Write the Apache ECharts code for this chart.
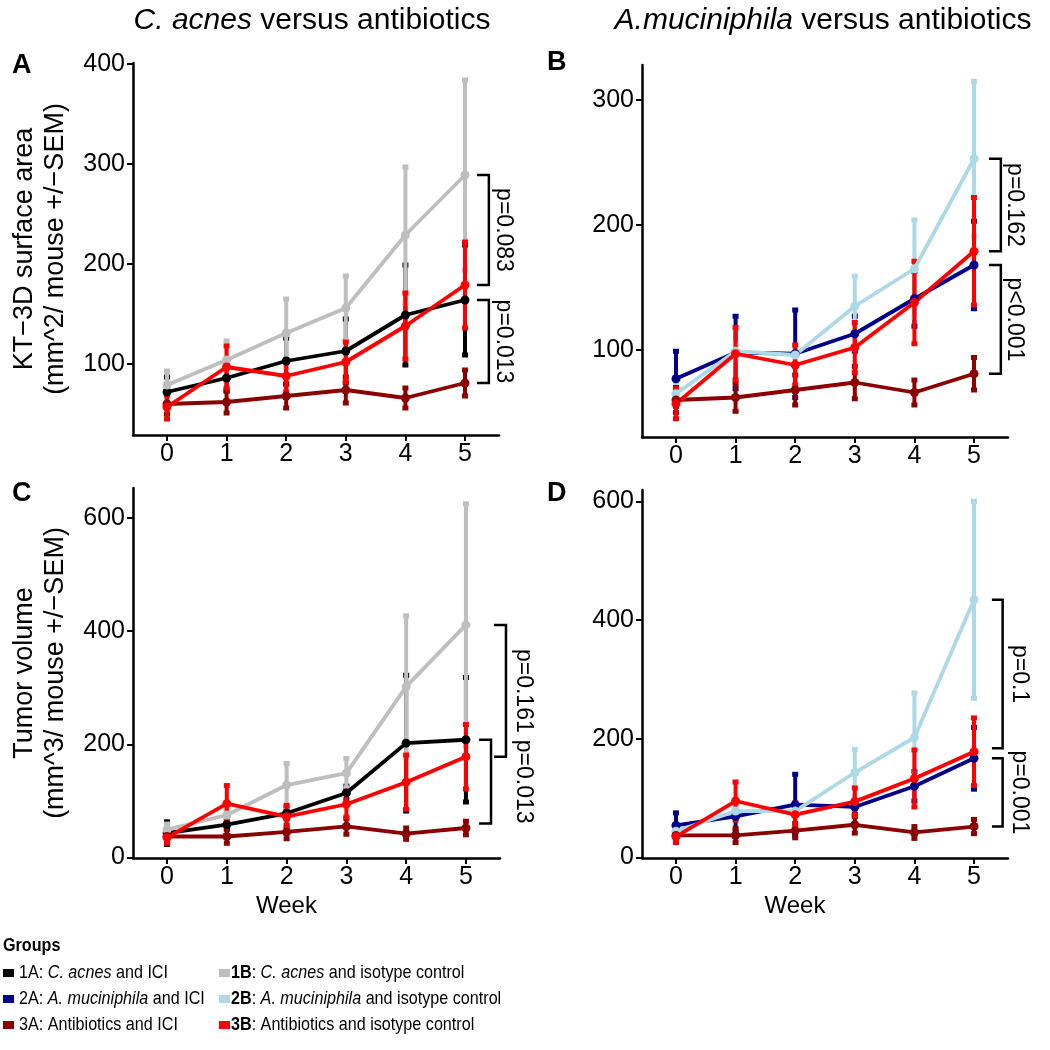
<!DOCTYPE html>
<html><head><meta charset="utf-8">
<script src="https://cdn.jsdelivr.net/npm/echarts@6/dist/echarts.min.js"></script>
<style>html,body{margin:0;padding:0;background:#fff}#c{width:1050px;height:1050px}</style>
</head><body><div id="c"></div>
<script>
// ---------- DATA ----------
const weeks = [0, 1, 2, 3, 4, 5];
const xTickValues = [0, 1, 2, 3, 4, 5];
const yTicksA = [100, 200, 300, 400];
const yTicksB = [100, 200, 300];
const yTicksC = [0, 200, 400, 600];
const yTicksD = [0, 200, 400, 600];

// KT-3D surface area (panels A, B)
const surf1A = [72, 86, 103, 113, 149, 164];
const surf1A_sem = [15, 13, 23, 32, 50, 55];
const surf1B = [79, 104, 131, 156, 229, 289];
const surf1B_sem = [14, 19, 34, 32, 68, 95];
const surf2A = [77, 98, 97, 113, 141, 168];
const surf2A_sem = [22, 29, 35, 14, 22, 35];
const surf2B = [65, 99, 96, 135, 165, 253];
const surf2B_sem = [8, 6, 5, 24, 39, 62];
const surf3A = [60, 62, 68, 74, 66, 81];
const surf3A_sem = [10, 11, 12, 13, 10, 13];
const surf3B = [57, 97, 88, 102, 138, 179];
const surf3B_sem = [12, 21, 16, 20, 33, 43];

// Tumor volume (panels C, D)
const vol1A = [43, 58, 78, 114, 202, 208];
const vol1A_sem = [20, 8, 10, 12, 120, 110];
const vol1B = [49, 75, 128, 149, 302, 411];
const vol1B_sem = [10, 10, 38, 26, 125, 214];
const vol2A = [54, 69, 89, 85, 120, 167];
const vol2A_sem = [21, 25, 51, 12, 25, 52];
const vol2B = [44, 78, 78, 143, 202, 434];
const vol2B_sem = [8, 8, 8, 39, 75, 166];
const vol3A = [37, 37, 45, 55, 42, 52];
const vol3A_sem = [10, 12, 12, 14, 10, 12];
const vol3B = [35, 95, 72, 94, 133, 178];
const vol3B_sem = [10, 32, 20, 23, 48, 57];

const groupColors = {'1A': '#000000', '1B': '#BEBEBE', '2A': '#00008B', '2B': '#ADD8E6', '3A': '#8B0000', '3B': '#FF0000'};
const legendTexts = {
  '1A': '1A: {i|C. acnes} and ICI',
  '1B': '{b|1B}: {i|C. acnes} and isotype control',
  '2A': '2A: {i|A. muciniphila} and ICI',
  '2B': '{b|2B}: {i|A. muciniphila} and isotype control',
  '3A': '3A: Antibiotics and ICI',
  '3B': '{b|3B}: Antibiotics and isotype control'
};

const pLabels = {
  A: ['p=0.083', 'p=0.013'],
  B: ['p=0.162', 'p<0.001'],
  C: ['p=0.161', 'p=0.013'],
  D: ['p=0.1', 'p=0.001']
};

// ---------- BUILD ----------
const FONT = 'Liberation Sans, Arial, Helvetica, sans-serif';
const panels = [
  {key: 'A', grid: {left: 133, top: 63, width: 366, height: 372}, y: [29, 401], ticks: yTicksA,
   groups: [['1A', surf1A, surf1A_sem], ['1B', surf1B, surf1B_sem], ['3A', surf3A, surf3A_sem], ['3B', surf3B, surf3B_sem]],
   brackets: [{top: surf1B[5], bot: surf3B[5], xv: 5.40, xe: 5.20, xt: 5.64},
              {top: surf1A[5], bot: surf3A[5], xv: 5.40, xe: 5.20, xt: 5.64}],
   yname: 'KT\u22123D surface area\n(mm^2/ mouse +/\u2212SEM)', xname: ''},
  {key: 'B', grid: {left: 642, top: 65, width: 366, height: 372}, y: [30.4, 328], ticks: yTicksB,
   groups: [['2A', surf2A, surf2A_sem], ['2B', surf2B, surf2B_sem], ['3A', surf3A, surf3A_sem], ['3B', surf3B, surf3B_sem]],
   brackets: [{top: surf2B[5], bot: surf3B[5], xv: 5.45, xe: 5.25, xt: 5.67},
              {top: surf2A[5], bot: surf3A[5], xv: 5.45, xe: 5.25, xt: 5.67}],
   yname: '', xname: ''},
  {key: 'C', grid: {left: 133, top: 488, width: 367, height: 370}, y: [-1, 653], ticks: yTicksC,
   groups: [['1A', vol1A, vol1A_sem], ['1B', vol1B, vol1B_sem], ['3A', vol3A, vol3A_sem], ['3B', vol3B, vol3B_sem]],
   brackets: [{top: vol1B[5], bot: vol3B[5], xv: 5.67, xe: 5.47, xt: 5.96},
              {top: vol1A[5], bot: vol3A[5] + 8, xv: 5.42, xe: 5.22, xt: 5.96}],
   yname: 'Tumor volume\n(mm^3/ mouse +/\u2212SEM)', xname: 'Week'},
  {key: 'D', grid: {left: 642, top: 490, width: 366, height: 368}, y: [-1, 619], ticks: yTicksD,
   groups: [['2A', vol2A, vol2A_sem], ['2B', vol2B, vol2B_sem], ['3A', vol3A, vol3A_sem], ['3B', vol3B, vol3B_sem]],
   brackets: [{top: vol2B[5], bot: vol3B[5] + 6, xv: 5.48, xe: 5.30, xt: 5.76},
              {top: vol2A[5], bot: vol3A[5], xv: 5.48, xe: 5.30, xt: 5.76}],
   yname: '', xname: 'Week'}
];

const grids = [], xAxes = [], yAxes = [], series = [];
panels.forEach((p, i) => {
  grids.push(Object.assign({containLabel: false}, p.grid));
  xAxes.push({
    type: 'value', gridIndex: i, min: -0.57, max: 5.57,
    axisLine: {show: true, onZero: false, lineStyle: {color: '#000', width: 2.5}},
    axisTick: {show: true, length: 6, lineStyle: {color: '#000', width: 2}, customValues: xTickValues},
    axisLabel: {color: '#000', fontSize: 25, fontFamily: FONT, margin: 7, customValues: xTickValues},
    splitLine: {show: false},
    name: p.xname, nameLocation: 'middle', nameGap: 36,
    nameTextStyle: {color: '#000', fontSize: 24, fontFamily: FONT, padding: [0, 60, 0, 0]}
  });
  yAxes.push({
    type: 'value', gridIndex: i, min: p.y[0], max: p.y[1],
    axisLine: {show: true, onZero: false, lineStyle: {color: '#000', width: 2.5}},
    axisTick: {show: true, length: 6, lineStyle: {color: '#000', width: 2}, customValues: p.ticks},
    axisLabel: {color: '#000', fontSize: 25, fontFamily: FONT, margin: 8, customValues: p.ticks},
    splitLine: {show: false},
    name: p.yname, nameLocation: 'middle', nameRotate: 90, nameGap: 62,
    nameTextStyle: {color: '#000', fontSize: 27, lineHeight: 31, fontFamily: FONT}
  });
  p.groups.forEach(([g, vals, sem]) => {
    const color = groupColors[g];
    series.push({
      type: 'custom', xAxisIndex: i, yAxisIndex: i, silent: true, clip: false,
      data: weeks.map((w, k) => [w, vals[k] - sem[k], vals[k] + sem[k]]),
      renderItem: function (params, api) {
        const lo = api.coord([api.value(0), api.value(1)]);
        const hi = api.coord([api.value(0), api.value(2)]);
        const c = 3;
        return {type: 'group', children: [
          {type: 'line', shape: {x1: lo[0], y1: lo[1], x2: hi[0], y2: hi[1]}, style: {stroke: color, lineWidth: 4}},
          {type: 'line', shape: {x1: lo[0] - c, y1: lo[1], x2: lo[0] + c, y2: lo[1]}, style: {stroke: color, lineWidth: 5}},
          {type: 'line', shape: {x1: hi[0] - c, y1: hi[1], x2: hi[0] + c, y2: hi[1]}, style: {stroke: color, lineWidth: 5}}
        ]};
      }
    });
  });
  p.groups.forEach(([g, vals]) => {
    const color = groupColors[g];
    series.push({
      type: 'line', xAxisIndex: i, yAxisIndex: i, silent: true,
      data: weeks.map((w, k) => [w, vals[k]]),
      symbol: 'circle', symbolSize: 9, showSymbol: true,
      lineStyle: {color: color, width: 3.8}, itemStyle: {color: color},
      animation: false
    });
  });
  p.brackets.forEach((b, j) => {
    series.push({
      type: 'custom', xAxisIndex: i, yAxisIndex: i, silent: true, clip: false,
      data: [[b.xe, b.xv, b.top, b.bot, b.xt]],
      renderItem: function (params, api) {
        const p1 = api.coord([api.value(0), api.value(2)]);
        const p2 = api.coord([api.value(1), api.value(2)]);
        const p3 = api.coord([api.value(1), api.value(3)]);
        const p4 = api.coord([api.value(0), api.value(3)]);
        const t = api.coord([api.value(4), (api.value(2) + api.value(3)) / 2]);
        return {type: 'group', children: [
          {type: 'polyline', shape: {points: [p1, p2, p3, p4]}, style: {stroke: '#000', lineWidth: 2.5, fill: null}},
          {type: 'text', x: t[0], y: t[1], rotation: -Math.PI / 2,
           style: {text: pLabels[p.key][j], font: '23px ' + FONT, fill: '#000', align: 'center', verticalAlign: 'middle'}}
        ]};
      }
    });
  });
});

const graphic = [];
graphic.push({type: 'text', x: 312, y: 21, style: {text: '{i|C. acnes} versus antibiotics', font: '30px ' + FONT, fill: '#000',
  align: 'center', verticalAlign: 'middle', rich: {i: {fontStyle: 'italic', fontSize: 30, fontFamily: FONT}}}});
graphic.push({type: 'text', x: 823, y: 21, style: {text: '{i|A.muciniphila} versus antibiotics', font: '30px ' + FONT, fill: '#000',
  align: 'center', verticalAlign: 'middle', rich: {i: {fontStyle: 'italic', fontSize: 30, fontFamily: FONT}}}});
[['A', 12, 66], ['B', 547, 63], ['C', 12, 494], ['D', 547, 494]].forEach(([t, x, y]) => {
  graphic.push({type: 'text', x: x, y: y, style: {text: t, font: 'bold 27px ' + FONT, fill: '#000', verticalAlign: 'middle'}});
});
graphic.push({type: 'text', x: 3, y: 946, scaleX: 0.85, style: {text: 'Groups', font: 'bold 19px ' + FONT, fill: '#000', verticalAlign: 'middle'}});
const legendRows = [['1A', '1B'], ['2A', '2B'], ['3A', '3B']];
const rowY = [973, 999, 1025];
const colX = [[3, 19], [219, 231]];
legendRows.forEach((row, r) => {
  row.forEach((g, c) => {
    graphic.push({type: 'rect', shape: {x: colX[c][0], y: rowY[r] - 4, width: 11, height: 8}, style: {fill: groupColors[g]}});
    graphic.push({type: 'text', x: colX[c][1], y: rowY[r], scaleX: 0.85, style: {text: legendTexts[g], font: '19px ' + FONT, fill: '#000',
      verticalAlign: 'middle', rich: {i: {fontStyle: 'italic', fontSize: 19, fontFamily: FONT}, b: {fontWeight: 'bold', fontSize: 19, fontFamily: FONT}}}});
  });
});

const chart = echarts.init(document.getElementById('c'), null, {renderer: 'canvas'});
chart.setOption({
  animation: false,
  backgroundColor: '#fff',
  grid: grids, xAxis: xAxes, yAxis: yAxes, series: series, graphic: graphic
});
</script></body></html>
